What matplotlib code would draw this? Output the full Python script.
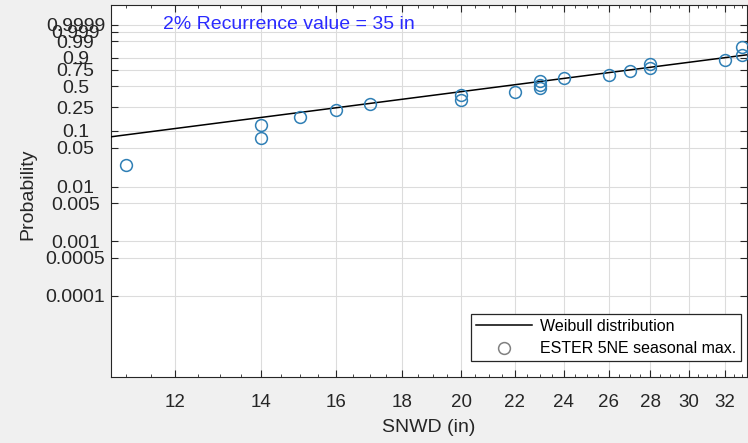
import numpy as np
import matplotlib
matplotlib.use("Agg")
import matplotlib.pyplot as plt
from matplotlib.ticker import FixedLocator, FixedFormatter, NullLocator

plt.rcParams['font.family'] = ['Liberation Sans', 'DejaVu Sans']

# ---- data ----
snwd = [11, 14, 14, 15, 16, 17, 20, 20, 22, 23, 23, 23, 24, 26, 27, 28, 28, 32, 33, 33]
prob = [0.025, 0.075, 0.125, 0.175, 0.225, 0.275, 0.325, 0.375, 0.425, 0.475,
        0.525, 0.575, 0.625, 0.675, 0.725, 0.775, 0.825, 0.875, 0.925, 0.975]
wbl_shape = 3.05
wbl_scale = 24.3
x_ticks = [12, 14, 16, 18, 20, 22, 24, 26, 28, 30, 32]
y_ticks = [0.0001, 0.0005, 0.001, 0.005, 0.01, 0.05, 0.1, 0.25, 0.5, 0.75, 0.9, 0.99, 0.999, 0.9999]
y_ticklabels = ['0.0001', '0.0005', '0.001', '0.005', '0.01', '0.05', '0.1', '0.25', '0.5',
                '0.75', '0.9', '0.99', '0.999', '0.9999']
annotation = '2% Recurrence value = 35 in'


def fwd(p):
    p = np.clip(np.asarray(p, dtype=float), 1e-300, 1 - 1e-16)
    return np.log(-np.log1p(-p))


def inv(z):
    return -np.expm1(-np.exp(np.asarray(z, dtype=float)))


fig = plt.figure(figsize=(7.48, 4.43), dpi=100, facecolor='#f0f0f0')
ax = fig.add_axes([111 / 748, 66 / 443, 636 / 748, 372 / 443])
ax.set_facecolor('white')

ax.set_xscale('log')
ax.set_yscale('function', functions=(fwd, inv))
xlim = (10.71, 33.28)
ax.set_xlim(*xlim)
ax.set_ylim(inv(-12.63), inv(3.06))

xx = np.geomspace(xlim[0], xlim[1], 200)
cdf = 1 - np.exp(-(xx / wbl_scale) ** wbl_shape)
ax.plot(xx, cdf, color='black', lw=1.1, label='Weibull distribution', zorder=3)
ax.plot(snwd, prob, linestyle='none', marker='o', markersize=8.5, markerfacecolor='none',
        markeredgecolor='#2f7fb5', markeredgewidth=1.1, label='ESTER 5NE seasonal max.', zorder=4)

ax.xaxis.set_major_locator(FixedLocator(x_ticks))
ax.xaxis.set_major_formatter(FixedFormatter([str(t) for t in x_ticks]))
ax.xaxis.set_minor_locator(FixedLocator(np.arange(11, 33.5, 0.5)))
ax.xaxis.set_minor_formatter(FixedFormatter([]))
ax.yaxis.set_major_locator(FixedLocator(y_ticks))
ax.yaxis.set_major_formatter(FixedFormatter(y_ticklabels))
ax.yaxis.set_minor_locator(NullLocator())

ax.tick_params(which='both', direction='in', top=True, right=True, colors='#262626',
               labelcolor='#262626')
ax.tick_params(axis='y', labelsize=14, pad=25.5)
ax.tick_params(axis='x', labelsize=13.5, pad=12)
ax.tick_params(which='major', length=5, width=0.8)
ax.tick_params(which='minor', length=2.5, width=0.6)
for lab in ax.get_yticklabels():
    lab.set_horizontalalignment('center')

ax.grid(True, which='major', color='#dcdcdc', lw=0.8)
ax.set_axisbelow(True)
for s in ax.spines.values():
    s.set_color('#262626')
    s.set_linewidth(0.8)

ax.set_xlabel('SNWD (in)', fontsize=14, color='#262626', labelpad=6)
ax.set_ylabel('Probability', fontsize=14, color='#262626')
ax.yaxis.set_label_coords(-0.118, 0.49)

ax.text(0.082, 0.947, annotation, transform=ax.transAxes, color='#2a2aff', fontsize=14,
        ha='left', va='center')

leg = ax.legend(loc='lower right', bbox_to_anchor=(0.9906, 0.043), fontsize=11.5, frameon=True,
                fancybox=False, edgecolor='#262626', framealpha=1, handlelength=3.5,
                borderpad=0.3, labelspacing=0.45, handletextpad=0.5, borderaxespad=0.0)
leg.get_frame().set_linewidth(0.9)
leg.legend_handles[1].set_markeredgecolor('#808080')

fig.savefig('out.png', dpi=100, facecolor=fig.get_facecolor())
